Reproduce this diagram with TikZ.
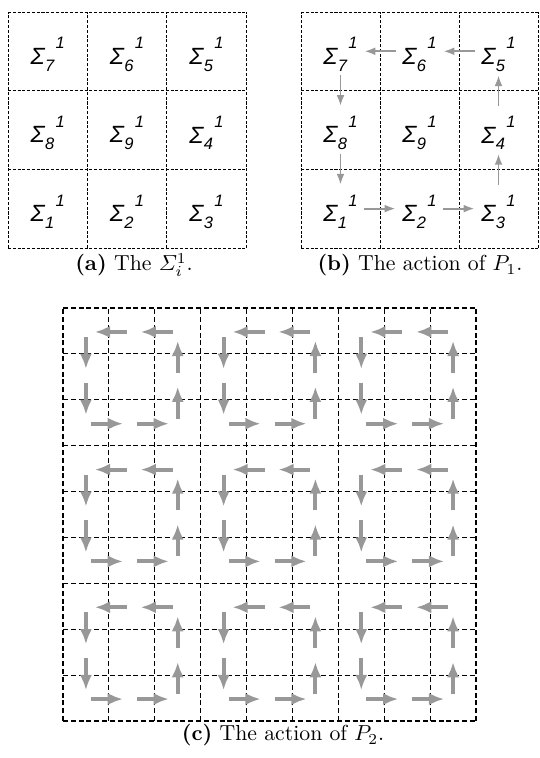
\documentclass[tikz,border=0pt]{standalone}
\usepackage{amsmath}
\usepackage{amssymb}
\usepackage{fontspec}
\usetikzlibrary{arrows.meta}
\newfontfamily\labfont{Liberation Sans}
\definecolor{flowgray}{RGB}{152,152,152}
\newcommand{\sig}[1]{\raisebox{0pt}[\dimexpr\height+2.8pt\relax][\depth]{\labfont\itshape\fontsize{10.8}{12}\selectfont
  Σ\kern0.2pt\raisebox{-0.55ex}{\fontsize{7.6}{8}\selectfont #1}\kern0.6pt\raisebox{1.25ex}{\fontsize{7.6}{8}\selectfont 1}}}

\begin{document}
\begin{tikzpicture}[x=0.46pt,y=0.46pt,
  lab/.style={inner sep=0pt},
  gridsmall/.style={line width=0.4pt,dash pattern=on 1.4pt off 0.8pt},
  gridminor/.style={line width=0.5pt,dash pattern=on 2.3pt off 1.3pt},
  gridmajor/.style={line width=0.65pt,dash pattern=on 2.3pt off 1.3pt},
  flowb/.style={-{Latex[length=5pt,width=3.6pt]},flowgray,line width=0.9pt,
    shorten <=11pt,shorten >=11pt},
  flowc/.style={-{Latex[length=7pt,width=5.6pt]},flowgray,line width=1.9pt,
    shorten <=2.3pt,shorten >=4.1pt}]

\useasboundingbox (0,0) rectangle (539,758);

% (a) the nine cells
\foreach \i in {0,...,3} {
  \draw[gridsmall] (8+79.33*\i,510) -- (8+79.33*\i,746);
  \draw[gridsmall] (8,510+78.67*\i) -- (246,510+78.67*\i);
}
\foreach \n/\c/\r in {7/0/0,6/1/0,5/2/0,8/0/1,9/1/1,4/2/1,1/0/2,2/1/2,3/2/2} {
  \node[lab] (a\n) at (47.7+79.33*\c,706.7-78.67*\r) {\sig{\n}};
}
\node[anchor=base] (capa) at (134,487) {\textbf{(a)} The $\varSigma_i^1$.};

% (b) action of P_1
\foreach \i in {0,...,3} {
  \draw[gridsmall] (301+79*\i,510) -- (301+79*\i,746);
  \draw[gridsmall] (301,510+78.67*\i) -- (538,510+78.67*\i);
}
\foreach \n/\c/\r in {7/0/0,6/1/0,5/2/0,8/0/1,9/1/1,4/2/1,1/0/2,2/1/2,3/2/2} {
  \node[lab] (b\n) at (340.5+79*\c,706.7-78.67*\r) {\sig{\n}};
}
\draw[flowb] (b1.center) -- (b2.center);
\draw[flowb] (b2.center) -- (b3.center);
\draw[flowb] (b3.center) -- (b4.center);
\draw[flowb] (b4.center) -- (b5.center);
\draw[flowb] (b5.center) -- (b6.center);
\draw[flowb] (b6.center) -- (b7.center);
\draw[flowb] (b7.center) -- (b8.center);
\draw[flowb] (b8.center) -- (b1.center);
\node[anchor=base] (capb) at (420,487) {\textbf{(b)} The action of $P_1$.};

% (c) action of P_2
\foreach \i in {1,2,4,5,7,8} {
  \draw[gridminor] (63+45.89*\i,37) -- (63+45.89*\i,449);
  \draw[gridminor] (63,37+45.89*\i) -- (476,37+45.89*\i);
}
\foreach \i in {0,3,6,9} {
  \draw[gridmajor] (63+45.89*\i,37) -- (63+45.89*\i,449);
  \draw[gridmajor] (63,37+45.89*\i) -- (476,37+45.89*\i);
}
\foreach \bx in {0,1,2} {
  \foreach \by in {0,1,2} {
    \foreach \k in {0,1,2} {
      \foreach \l in {0,1,2} {
        \coordinate (q\k\l) at (85.94+137.67*\bx+45.89*\k,426.06-137.67*\by-45.89*\l);
      }
    }
    \draw[flowc] (q20) -- (q10);
    \draw[flowc] (q10) -- (q00);
    \draw[flowc] (q00) -- (q01);
    \draw[flowc] (q01) -- (q02);
    \draw[flowc] (q02) -- (q12);
    \draw[flowc] (q12) -- (q22);
    \draw[flowc] (q22) -- (q21);
    \draw[flowc] (q21) -- (q20);
  }
}
\node[anchor=base] (capc) at (283,17) {\textbf{(c)} The action of $P_2$.};

\end{tikzpicture}
\end{document}
